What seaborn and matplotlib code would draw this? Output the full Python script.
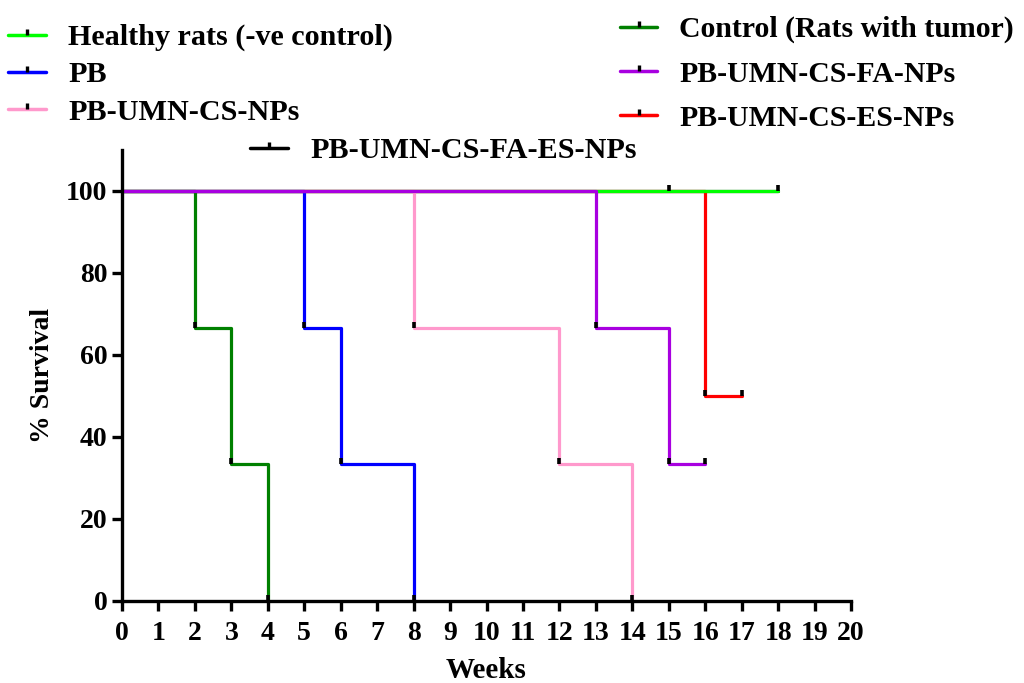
import numpy as np
import pandas as pd
import seaborn as sns
import matplotlib
matplotlib.use("Agg")
import matplotlib.pyplot as plt
from matplotlib.path import Path
from matplotlib.lines import Line2D

# ---- data ----
groups = ["Healthy rats (-ve control)", "Control (Rats with tumor)", "PB",
          "PB-UMN-CS-FA-NPs", "PB-UMN-CS-NPs", "PB-UMN-CS-ES-NPs",
          "PB-UMN-CS-FA-ES-NPs"]
colors = ["#00ff00", "#008000", "#0000ff", "#a800e0", "#ff99cc", "#ff0000", "#000000"]

healthy_t = [0, 18];            healthy_s = [100, 100]
control_t = [0, 2, 3, 4];       control_s = [100, 66.67, 33.33, 0]
pb_t = [0, 5, 6, 8];            pb_s = [100, 66.67, 33.33, 0]
fa_t = [0, 13, 15, 16];         fa_s = [100, 66.67, 33.33, 33.33]
cs_t = [0, 8, 12, 14];          cs_s = [100, 66.67, 33.33, 0]
es_t = [0, 16, 17];             es_s = [100, 50, 50]
faes_t = [0, 18];               faes_s = [100, 100]

times = [healthy_t, control_t, pb_t, fa_t, cs_t, es_t, faes_t]
survs = [healthy_s, control_s, pb_s, fa_s, cs_s, es_s, faes_s]

# censored observations
cens_t = [15, 18, 16, 17]
cens_s = [100, 100, 33.33, 50]

x_ticks = list(range(0, 21))
y_ticks = [0, 20, 40, 60, 80, 100]

# ---- build table ----
rows = []
for g, ts, ss in zip(groups, times, survs):
    for t, s in zip(ts, ss):
        rows.append({"Weeks": t, "Survival": s, "Group": g})
df = pd.DataFrame(rows)

drop_t, drop_s = [], []
for ts, ss in zip(times, survs):
    for i in range(1, len(ts)):
        if ss[i] != ss[i - 1]:
            drop_t.append(ts[i]); drop_s.append(ss[i])

sns.set_style("ticks")
plt.rcParams["font.family"] = ["Liberation Serif", "DejaVu Serif"]
plt.rcParams["font.weight"] = "bold"
for k in ["text.color", "axes.labelcolor", "xtick.color", "ytick.color", "axes.edgecolor"]:
    plt.rcParams[k] = "black"

fig = plt.figure(figsize=(10.24, 6.83), dpi=100)
ax = fig.add_axes([122 / 1024, 1 - 601 / 683, (851 - 122) / 1024, (601 - 150) / 683])

draw_order = ["PB-UMN-CS-FA-ES-NPs", "PB-UMN-CS-ES-NPs", "Healthy rats (-ve control)",
              "PB", "PB-UMN-CS-NPs", "Control (Rats with tumor)", "PB-UMN-CS-FA-NPs"]
pal = dict(zip(groups, colors))
sns.lineplot(data=df, x="Weeks", y="Survival", hue="Group", hue_order=draw_order,
             palette=pal, drawstyle="steps-post", estimator=None, sort=False,
             legend=False, linewidth=2.3, ax=ax)

tick_marker = Path([(0, 0), (0, 1)], [Path.MOVETO, Path.LINETO])
ax.plot(drop_t, drop_s, linestyle="none", marker=tick_marker, markersize=9,
        markeredgewidth=2.6, markeredgecolor="black", clip_on=False, zorder=5)
ax.plot(cens_t, cens_s, linestyle="none", marker=tick_marker, markersize=9,
        markeredgewidth=2.6, markeredgecolor="black", clip_on=False, zorder=5)

ax.set_xlim(0, 20)
ax.set_ylim(0, 110)
ax.set_xticks(x_ticks)
ax.set_xticklabels([str(v) for v in x_ticks])
ax.set_yticks(y_ticks)
ax.set_yticklabels([str(v) for v in y_ticks])
ax.tick_params(axis="both", length=7.5, width=2.4, labelsize=20, direction="out", color="black",
               labelcolor="black")
ax.tick_params(axis="x", pad=7)
ax.tick_params(axis="y", pad=3)
for lab in ax.get_xticklabels() + ax.get_yticklabels():
    lab.set_fontweight("bold")
sns.despine(ax=ax)
for sp in ["left", "bottom"]:
    ax.spines[sp].set_linewidth(2.4)
    ax.spines[sp].set_color("black")
ax.set_xlabel("Weeks", fontsize=21, fontweight="bold", labelpad=8)
ax.set_ylabel("% Survival", fontsize=20, fontweight="bold", labelpad=8)


def handle(c):
    return Line2D([], [], color=c, linewidth=2.5, marker=tick_marker, markersize=8,
                  markeredgewidth=2.4, markeredgecolor="black")


leg_kw = dict(frameon=False, handlelength=1.25, handletextpad=0.75,
              borderpad=0, borderaxespad=0, loc="upper left")
left = ["Healthy rats (-ve control)", "PB", "PB-UMN-CS-NPs"]
right = ["Control (Rats with tumor)", "PB-UMN-CS-FA-NPs", "PB-UMN-CS-ES-NPs"]
fig.legend([handle(pal[g]) for g in left], left, bbox_to_anchor=(8 / 1024, 1 - 24 / 683),
           labelspacing=0.33, prop={"weight": "bold", "size": 21.7}, **leg_kw)
fig.legend([handle(pal[g]) for g in right], right, bbox_to_anchor=(620 / 1024, 1 - 16 / 683),
           labelspacing=0.58, prop={"weight": "bold", "size": 21.4}, **leg_kw)
fig.legend([handle(pal["PB-UMN-CS-FA-ES-NPs"])], ["PB-UMN-CS-FA-ES-NPs"],
           bbox_to_anchor=(250 / 1024, 1 - 137 / 683),
           prop={"weight": "bold", "size": 21.7}, **leg_kw)

fig.savefig("out.png", dpi=100)
